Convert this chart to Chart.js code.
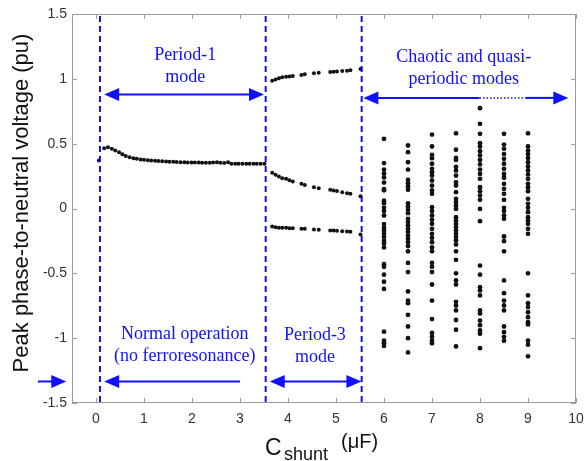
<!DOCTYPE html>
<html>
<head>
<meta charset="utf-8">
<script src="https://cdn.jsdelivr.net/npm/chart.js@4/dist/chart.umd.min.js"></script>
<style>
  html, body { margin: 0; padding: 0; background: #fff; }
  canvas { display: block; }
</style>
</head>
<body>
<canvas id="chart" width="585" height="461"></canvas>
<script>
// Period-1 branch
const p1C = [0.06, 0.17, 0.25, 0.33, 0.40, 0.48, 0.55, 0.62, 0.70, 0.78, 0.85, 0.93, 1.00, 1.08, 1.15, 1.23,
    1.30, 1.38, 1.46, 1.53, 1.61, 1.68, 1.76, 1.84, 1.91, 1.99, 2.06, 2.14, 2.21, 2.29, 2.37, 2.44, 2.52,
    2.59, 2.67, 2.75, 2.82, 2.90, 2.97, 3.05, 3.13, 3.20, 3.28, 3.35, 3.43, 3.51];
const p1V = [0.37, 0.465, 0.473, 0.46, 0.447, 0.434, 0.418, 0.405, 0.396, 0.388, 0.383, 0.378, 0.376, 0.373,
    0.370, 0.368, 0.366, 0.364, 0.362, 0.361, 0.36, 0.358, 0.357, 0.356, 0.355, 0.355, 0.354, 0.354, 0.353,
    0.353, 0.353, 0.355, 0.357, 0.353, 0.350, 0.357, 0.345, 0.346, 0.345, 0.345, 0.345, 0.345, 0.345, 0.345,
    0.345, 0.346];

// Period-3 branches (three peaks per cycle)
const p3C = [3.67, 3.74, 3.81, 3.88, 3.96, 4.03, 4.10, 4.28, 4.35, 4.54, 4.64, 4.88, 4.95, 5.02, 5.13, 5.23, 5.30, 5.51];
const p3Upper = [0.985, 0.995, 1.005, 1.012, 1.016, 1.018, 1.021, 1.03, 1.035, 1.044, 1.046, 1.052, 1.054, 1.057,
    1.06, 1.063, 1.067, 1.075];
const p3Middle = [0.275, 0.26, 0.247, 0.234, 0.229, 0.218, 0.208, 0.19, 0.182, 0.164, 0.157, 0.144, 0.139, 0.134,
    0.126, 0.118, 0.113, 0.095];
const p3Lower = [-0.139, -0.144, -0.149, -0.149, -0.149, -0.152, -0.152, -0.157, -0.157, -0.162, -0.164, -0.17,
    -0.17, -0.172, -0.175, -0.177, -0.18, -0.2];

// Chaotic / quasi-periodic peaks
const chaosC = [6, 6.5, 7, 7.5, 8, 8.5, 9];
const chaos6 = [0.537, 0.35, 0.30, 0.27, 0.24, 0.20, 0.15, 0.14, 0.06, 0.04, 0.005, -0.02, -0.054, -0.12, -0.15,
    -0.17, -0.195, -0.22, -0.25, -0.27, -0.30, -0.43, -0.45, -0.51, -0.565, -0.62, -0.95, -1.02, -1.04, -1.06];
const chaos65 = [0.486, 0.434, 0.357, 0.30, 0.22, 0.195, 0.17, 0.144, 0.04, 0.015, -0.01, -0.036, -0.08, -0.105,
    -0.13, -0.157, -0.18, -0.21, -0.234, -0.26, -0.29, -0.33, -0.42, -0.49, -0.64, -0.71, -0.73, -0.82, -0.91,
    -1.00, -1.11];
const chaos7 = [0.57, 0.478, 0.414, 0.388, 0.345, 0.306, 0.28, 0.254, 0.216, 0.177, 0.139, 0.113, 0.01, -0.02,
    -0.054, -0.087, -0.118, -0.157, -0.195, -0.226, -0.26, -0.30, -0.33, -0.42, -0.45, -0.49, -0.586, -0.71,
    -0.853, -0.96, -0.99, -1.02, -1.04];
const chaos75 = [0.58, 0.453, 0.39, 0.375, 0.32, 0.293, 0.254, 0.203, 0.177, 0.126, 0.075, 0.05, 0.023, -0.003,
    -0.067, -0.093, -0.118, -0.144, -0.17, -0.195, -0.22, -0.247, -0.278, -0.33, -0.396, -0.50, -0.555, -0.586,
    -0.72, -0.748, -0.786, -0.86, -0.935, -1.064];
const chaos8 = [0.773, 0.653, 0.576, 0.504, 0.478, 0.442, 0.409, 0.375, 0.34, 0.30, 0.267, 0.229, 0.164, 0.133,
    0.10, 0.067, -0.003, -0.098, -0.44, -0.51, -0.607, -0.632, -0.67, -0.786, -0.81, -0.864, -0.90, -0.94,
    -0.966, -1.077];
const chaos85 = [0.576, 0.493, 0.46, 0.42, 0.383, 0.345, 0.306, 0.267, 0.237, 0.19, 0.152, 0.113, 0.067, 0.005,
    -0.02, -0.054, -0.08, -0.216, -0.252, -0.33, -0.555, -0.653, -0.71, -0.748, -0.786, -0.91, -0.954, -0.99, -1.02];
const chaos9 = [0.58, 0.478, 0.447, 0.42, 0.39, 0.357, 0.324, 0.293, 0.262, 0.229, 0.19, 0.164, 0.133, 0.075,
    0.036, 0.005, -0.028, -0.067, -0.093, -0.118, -0.157, -0.195, -0.50, -0.67, -0.73, -0.76, -0.80, -0.838,
    -0.877, -0.894, -1.02, -1.05, -1.14];
const chaosCols = [chaos6, chaos65, chaos7, chaos75, chaos8, chaos85, chaos9];

// Axis ticks
const xTicks = [0, 1, 2, 3, 4, 5, 6, 7, 8, 9, 10];
const yTicks = [-1.5, -1, -0.5, 0, 0.5, 1, 1.5];

// Mode boundaries (uF)
const boundaries = [0.083, 3.535, 5.535];

// Region arrows: [fromC, toC, voltage, head at start, head at end]
const arrows = [
    [0.17, 3.50, 0.879, true, true],
    [5.57, 7.99, 0.853, true, false],
    [8.95, 9.84, 0.853, false, true],
    [3.0, 0.17, -1.334, false, true],
    [3.62, 5.53, -1.334, true, true],
    [-1.21, -0.62, -1.334, false, true]
];
const dottedArrow = [7.99, 8.95, 0.853];

// Region labels: [text lines, centre C, first-line voltage]
const labels = [
    [['Period-1', 'mode'], 1.86, 1.18],
    [['Chaotic and quasi-', 'periodic modes'], 7.66, 1.17],
    [['Normal operation', '(no ferroresonance)'], 1.85, -0.97],
    [['Period-3', 'mode'], 4.56, -0.98]
];

const BLUE = '#1010ff';
const AXIS_GREY = '#9a9a9a';

function pts(xs, ys) {
    return ys.map(function(v, i) { return { x: xs[i], y: v }; });
}

const datasets = [
    { data: pts(p1C, p1V), pointRadius: 2 },
    { data: pts(p3C, p3Upper), pointRadius: 2 },
    { data: pts(p3C, p3Middle), pointRadius: 2 },
    { data: pts(p3C, p3Lower), pointRadius: 2 }
];
chaosCols.forEach(function(col, i) {
    datasets.push({ data: col.map(function(v) { return { x: chaosC[i], y: v }; }), pointRadius: 2.4 });
});
datasets.forEach(function(d) {
    d.backgroundColor = '#111';
    d.borderColor = '#111';
    d.borderWidth = 0;
    d.showLine = false;
});

// box, inward ticks and axis titles
const framePlugin = {
    id: 'frame',
    afterDraw: function(chart) {
        const ctx = chart.ctx;
        const a = chart.chartArea;
        const xs = chart.scales.x, ys = chart.scales.y;
        ctx.save();
        ctx.strokeStyle = AXIS_GREY;
        ctx.lineWidth = 1;
        ctx.strokeRect(a.left + 0.5, a.top + 0.5, a.right - a.left - 1, a.bottom - a.top - 1);
        ctx.beginPath();
        xTicks.forEach(function(v) {
            const px = Math.round(xs.getPixelForValue(v)) + 0.5;
            ctx.moveTo(px, a.bottom); ctx.lineTo(px, a.bottom - 5);
            ctx.moveTo(px, a.top); ctx.lineTo(px, a.top + 5);
        });
        yTicks.forEach(function(v) {
            const py = Math.round(ys.getPixelForValue(v)) + 0.5;
            ctx.moveTo(a.left, py); ctx.lineTo(a.left + 5, py);
            ctx.moveTo(a.right, py); ctx.lineTo(a.right - 5, py);
        });
        ctx.stroke();

        ctx.fillStyle = '#111';
        ctx.textBaseline = 'alphabetic';
        ctx.textAlign = 'left';
        ctx.font = '23px "Liberation Sans", Arial, sans-serif';
        ctx.fillText('C', 265, 455);
        ctx.font = '18px "Liberation Sans", Arial, sans-serif';
        ctx.fillText('shunt', 284, 460);
        ctx.font = '20px "Liberation Sans", Arial, sans-serif';
        ctx.fillText('(\u03bcF)', 341, 448);

        ctx.translate(28, 203);
        ctx.rotate(-Math.PI / 2);
        ctx.textAlign = 'center';
        ctx.font = '22px "Liberation Sans", Arial, sans-serif';
        ctx.fillText('Peak phase-to-neutral voltage (pu)', 0, 0);
        ctx.restore();
    }
};

function head(ctx, tipX, y, dir) {
    ctx.beginPath();
    ctx.moveTo(tipX, y);
    ctx.lineTo(tipX - dir * 15, y - 6.5);
    ctx.lineTo(tipX - dir * 15, y + 6.5);
    ctx.closePath();
    ctx.fill();
}

// mode boundaries, arrows and region labels
const modePlugin = {
    id: 'modes',
    afterDatasetsDraw: function(chart) {
        const ctx = chart.ctx;
        const a = chart.chartArea;
        const xs = chart.scales.x, ys = chart.scales.y;
        ctx.save();
        ctx.strokeStyle = BLUE;
        ctx.fillStyle = BLUE;

        ctx.lineWidth = 2;
        ctx.setLineDash([6, 4]);
        boundaries.forEach(function(c) {
            const px = xs.getPixelForValue(c);
            ctx.beginPath();
            ctx.moveTo(px, a.top + 2);
            ctx.lineTo(px, a.bottom);
            ctx.stroke();
        });
        ctx.setLineDash([]);

        arrows.forEach(function(ar) {
            const x1 = xs.getPixelForValue(ar[0]);
            const x2 = xs.getPixelForValue(ar[1]);
            const y = ys.getPixelForValue(ar[2]);
            const dir = x2 > x1 ? 1 : -1;
            ctx.lineWidth = 2;
            ctx.beginPath();
            ctx.moveTo(ar[3] ? x1 + dir * 12 : x1, y);
            ctx.lineTo(ar[4] ? x2 - dir * 12 : x2, y);
            ctx.stroke();
            if (ar[3]) head(ctx, x1, y, -dir);
            if (ar[4]) head(ctx, x2, y, dir);
        });

        ctx.lineWidth = 1.5;
        ctx.setLineDash([1.5, 2]);
        ctx.beginPath();
        const dy = ys.getPixelForValue(dottedArrow[2]);
        ctx.moveTo(xs.getPixelForValue(dottedArrow[0]), dy);
        ctx.lineTo(xs.getPixelForValue(dottedArrow[1]), dy);
        ctx.stroke();
        ctx.setLineDash([]);

        ctx.font = '18px "Liberation Serif", "Times New Roman", serif';
        ctx.textAlign = 'center';
        ctx.textBaseline = 'middle';
        labels.forEach(function(lb) {
            const cx = xs.getPixelForValue(lb[1]);
            const cy = ys.getPixelForValue(lb[2]);
            lb[0].forEach(function(t, i) {
                ctx.fillText(t, cx, cy + i * 22);
            });
        });
        ctx.restore();
    }
};

const tickFont = { family: '"Liberation Sans", Arial, sans-serif', size: 14 };

new Chart(document.getElementById('chart'), {
    type: 'scatter',
    data: { datasets: datasets },
    options: {
        responsive: false,
        animation: false,
        layout: { padding: { top: 14, right: 9, left: 0, bottom: 0 } },
        plugins: {
            legend: { display: false },
            tooltip: { enabled: false }
        },
        scales: {
            x: {
                type: 'linear',
                min: -0.5,
                max: 10,
                afterBuildTicks: function(s) { s.ticks = xTicks.map(function(v) { return { value: v }; }); },
                afterFit: function(s) {
                    s.height = 58;
                    s.paddingLeft = 0;
                    s.paddingRight = 0;
                },
                grid: { display: false, drawTicks: false },
                border: { display: false },
                ticks: {
                    color: '#333', font: tickFont, padding: 8, maxRotation: 0,
                    callback: function(v) { return String(v); }
                }
            },
            y: {
                type: 'linear',
                min: -1.5,
                max: 1.5,
                afterBuildTicks: function(s) { s.ticks = yTicks.map(function(v) { return { value: v }; }); },
                afterFit: function(s) {
                    s.width = 72;
                    s.paddingTop = 0;
                    s.paddingBottom = 0;
                },
                grid: { display: false, drawTicks: false },
                border: { display: false },
                ticks: {
                    color: '#333', font: tickFont, padding: 5,
                    callback: function(v) { return String(v); }
                }
            }
        }
    },
    plugins: [framePlugin, modePlugin]
});
</script>
</body>
</html>
